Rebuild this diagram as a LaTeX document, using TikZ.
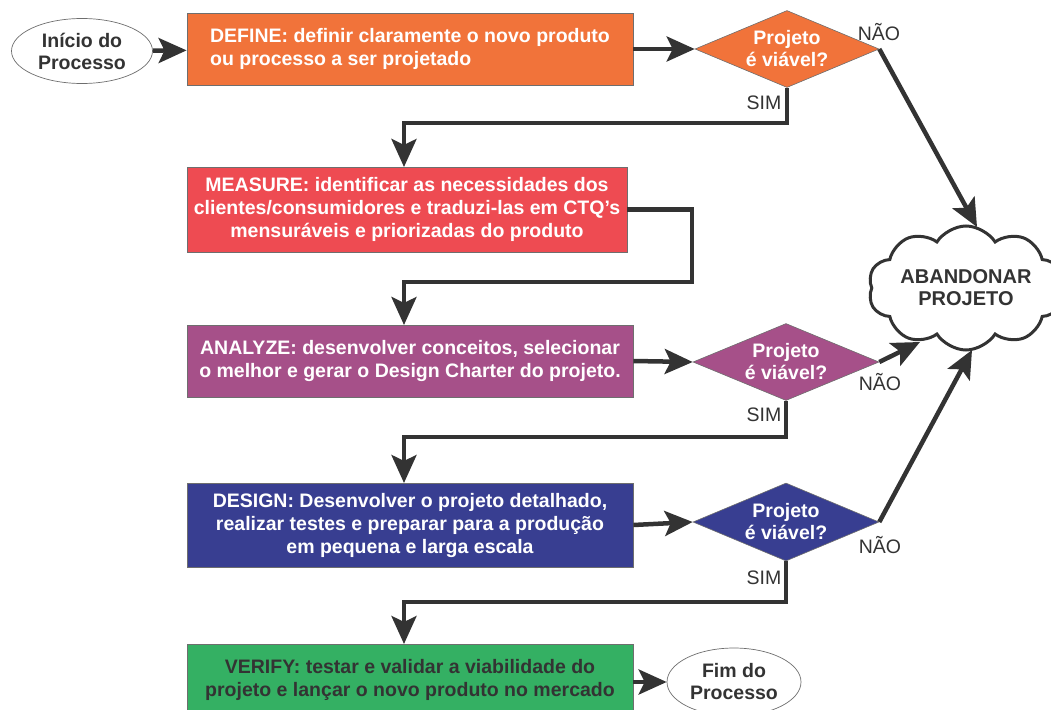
\documentclass[tikz,border=0pt]{standalone}
\usepackage{fontspec}
\setmainfont{Liberation Sans}
\usetikzlibrary{shapes.geometric,shapes.symbols,arrows.meta}
\definecolor{cdefine}{HTML}{F1733A}
\definecolor{cmeasure}{HTML}{EE4B52}
\definecolor{canalyze}{HTML}{A65089}
\definecolor{cdesign}{HTML}{383E91}
\definecolor{cverify}{HTML}{34B063}
\definecolor{lc}{HTML}{333333}
\definecolor{bc}{HTML}{6E6E6E}
\begin{document}
\begin{tikzpicture}[x=1pt,y=-1pt,
  bigfont/.style={font=\fontsize{19.5}{23}\selectfont\bfseries},
  box/.style={draw=bc, line width=0.8pt, rectangle, inner sep=0pt, bigfont, text=white, align=center},
  dia/.style={draw=bc, line width=0.6pt, diamond, aspect=2.4, inner sep=0pt, text=white, align=center,
    font=\fontsize{19.5}{22}\selectfont\bfseries},
  term/.style={draw=bc, line width=0.7pt, ellipse, fill=white, inner sep=0pt, text=lc, align=center,
    font=\fontsize{19.5}{22}\selectfont\bfseries},
  lbl/.style={text=lc, font=\fontsize{19.5}{22}\selectfont, inner sep=0pt},
  arr/.style={draw=lc, line width=4.5pt, -{Stealth[length=28pt,width=25pt,inset=6pt]}},
  ln/.style={draw=lc, line width=4.5pt}
]
\useasboundingbox (0,0) rectangle (1051,709);

% terminals
\node[term, minimum width=141pt, minimum height=65pt] (start) at (82,51) {Início do\\Processo};
\node[term, minimum width=134pt, minimum height=68pt] (fim) at (734,682) {Fim do\\Processo};

% process boxes
\node[box, fill=cdefine, minimum width=446pt, minimum height=72pt, align=left] (define) at (410,49)
  {DEFINE: definir claramente o novo produto\\ou processo a ser projetado};
\node[box, fill=cmeasure, minimum width=440pt, minimum height=85pt] (measure) at (407,209.5)
  {MEASURE: identificar as necessidades dos\\clientes/consumidores e traduzi-las em CTQ’s\\mensuráveis e priorizadas do produto};
\node[box, fill=canalyze, minimum width=446pt, minimum height=72pt] (analyze) at (410,361)
  {ANALYZE: desenvolver conceitos, selecionar\\o melhor e gerar o Design Charter do projeto.};
\node[box, fill=cdesign, minimum width=446pt, minimum height=84pt] (design) at (410,525)
  {DESIGN: Desenvolver o projeto detalhado,\\realizar testes e preparar para a produção\\em pequena e larga escala};
\node[box, fill=cverify, text=lc, minimum width=446pt, minimum height=72pt] (verify) at (410,680)
  {VERIFY: testar e validar a viabilidade do\\projeto e lançar o novo produto no mercado};

% decisions
\node[dia, fill=cdefine, minimum width=184pt, minimum height=77pt] (d1) at (787,49) {Projeto\\é viável?};
\node[dia, fill=canalyze, minimum width=186pt, minimum height=77pt] (d2) at (786,362) {Projeto\\é viável?};
\node[dia, fill=cdesign, minimum width=186pt, minimum height=78pt] (d3) at (786,522) {Projeto\\é viável?};

% cloud
\node[cloud, cloud puffs=10, cloud puff arc=115, cloud ignores aspect, draw=lc, line width=3pt, fill=white,
  minimum width=182pt, minimum height=124pt, text=lc, align=center,
  font=\fontsize{20}{22}\selectfont\bfseries] (cloud) at (966,288) {ABANDONAR\\PROJETO};

\coordinate (c1) at (977,227);
\coordinate (c2) at (920,342);
\coordinate (c3) at (972,350);

% labels
\node[lbl] (n1) at (879,32) {NÃO};
\node[lbl] (n2) at (880,382) {NÃO};
\node[lbl] (n3) at (880,545) {NÃO};
\node[lbl] (s1) at (764,103) {SIM};
\node[lbl] (s2) at (764,415) {SIM};
\node[lbl] (s3) at (764,578) {SIM};

% connectors
\draw[arr] (start) -- (define);
\draw[arr] (define.east) -- (d1.west);
\draw[arr] (analyze.east) -- (d2.west);
\draw[arr] (design.east) -- (d3.west);
\draw[arr] (verify.east |- fim.west) -- (fim.west);

\draw[arr] (d1.south) -- (d1.south |- 0,123) -| (404,167);
\draw[arr] (measure.east) -| (692,282) -| (404,325);
\draw[arr] (d2.south) -- (d2.south |- 0,437) -| (404,483);
\draw[arr] (d3.south) -- (d3.south |- 0,602) -| (404,644);

\draw[arr] (d1.east) -- (c1);
\draw[arr] (d2.east) -- (c2);
\draw[arr] (d3.east) -- (c3);
\end{tikzpicture}
\end{document}
